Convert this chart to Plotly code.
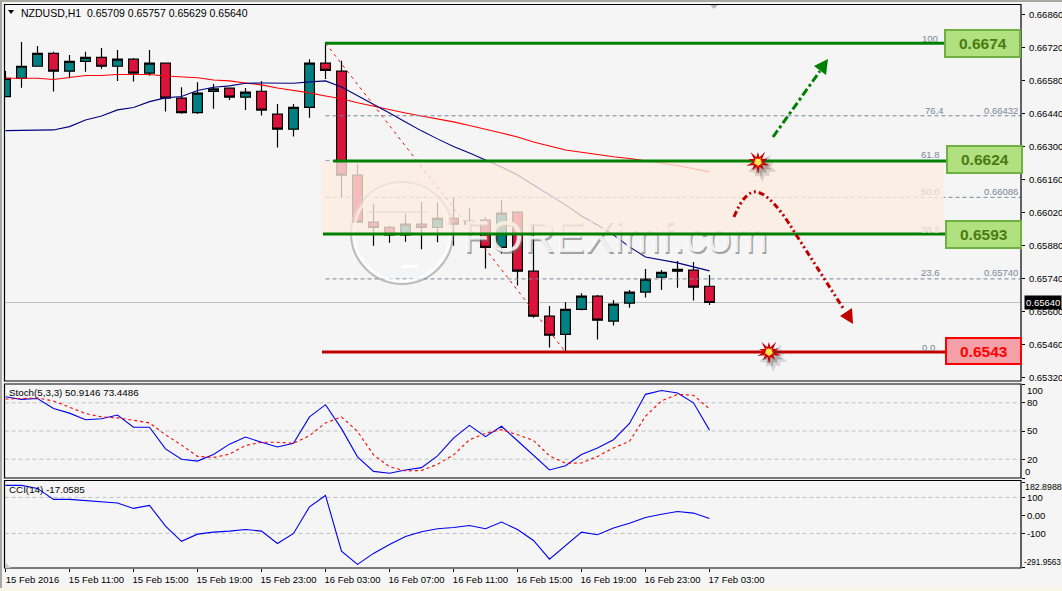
import math
import plotly.graph_objects as go

W, H = 1062, 591

# Hourly NZDUSD bars
opens = [0.66513,0.66591,0.66642,0.66697,0.66621,0.66663,0.66680,0.66642,0.66672,0.66613,
         0.66655,0.66507,0.66445,0.66535,0.66549,0.66511,0.66536,0.66439,0.66375,0.66468,
         0.66655,0.66621,0.66180,0.65981,0.65959,0.65927,0.65972,0.65958,0.65997,0.65972,
         0.65989,0.65874,0.66023,0.65773,0.65582,0.65505,0.65611,0.65667,0.65561,0.65637,
         0.65684,0.65747,0.65773,0.65777,0.65709]
highs = [0.66622,0.66745,0.66728,0.66704,0.66690,0.66704,0.66720,0.66711,0.66677,0.66711,
         0.66655,0.66553,0.66574,0.66567,0.66549,0.66550,0.66580,0.66482,0.66482,0.66672,
         0.66740,0.66665,0.66227,0.66058,0.65965,0.66016,0.66067,0.66067,0.66085,0.66040,
         0.66002,0.66075,0.66023,0.65969,0.65625,0.65641,0.65679,0.65672,0.65651,0.65693,
         0.65782,0.65778,0.65816,0.65812,0.65757]
lows = [0.66513,0.66551,0.66642,0.66535,0.66591,0.66619,0.66631,0.66580,0.66577,0.66602,
        0.66450,0.66441,0.66440,0.66462,0.66499,0.66457,0.66433,0.66297,0.66344,0.66424,
        0.66588,0.66084,0.65981,0.65881,0.65893,0.65898,0.65866,0.65896,0.65881,0.65914,
        0.65784,0.65847,0.65712,0.65575,0.65449,0.65430,0.65607,0.65483,0.65542,0.65618,
        0.65661,0.65693,0.65703,0.65648,0.65629]
closes = [0.66591,0.66642,0.66697,0.66621,0.66663,0.66680,0.66642,0.66672,0.66613,0.66655,
          0.66507,0.66445,0.66528,0.66546,0.66511,0.66532,0.66456,0.66375,0.66468,0.66655,
          0.66625,0.66180,0.65981,0.65958,0.65927,0.65972,0.65958,0.65997,0.65972,0.65985,
          0.65874,0.66019,0.65773,0.65582,0.65501,0.65611,0.65667,0.65565,0.65633,0.65684,
          0.65739,0.65768,0.65781,0.65705,0.65640]

# Moving averages
ma_slow = [0.66591,0.66591,0.66591,0.66586,0.66593,0.66603,0.66603,0.66607,0.66607,0.66607,
           0.66601,0.66597,0.66593,0.66584,0.66580,0.66571,0.66563,0.66550,0.66540,0.66529,
           0.66516,0.66504,0.66487,0.66472,0.66457,0.66444,0.66431,0.66419,0.66406,0.66391,
           0.66376,0.66359,0.66342,0.66321,0.66304,0.66287,0.66277,0.66266,0.66258,0.66251,
           0.66241,0.66232,0.66221,0.66207,0.66194]
ma_fast = [0.66369,0.66369,0.66369,0.66372,0.66386,0.66414,0.66431,0.66457,0.66467,0.66492,
           0.66508,0.66514,0.66539,0.66553,0.66559,0.66570,0.66571,0.66570,0.66570,0.66576,
           0.66580,0.66554,0.66518,0.66482,0.66444,0.66406,0.66368,0.66334,0.66302,0.66274,
           0.66245,0.66215,0.66181,0.66139,0.66096,0.66054,0.66007,0.65969,0.65927,0.65876,
           0.65833,0.65821,0.65808,0.65791,0.65774]

# Oscillators
stoch_k = [86.4,83.6,84.6,74,69,62,63,67,54,54,31,20,18,25,36,43.6,38,33,37,65,78,52.5,22.5,7,5,
           8.6,11,23.6,42.5,56,44,55,39.6,24.6,8.6,13,25,32,40.7,58,89,93,90.4,80,50.91]
stoch_d = [84,84.6,85,82,75,68.6,65,64,61.4,58.6,46,35,23,21.8,25.4,34.6,38,38,37,45,58.6,65,49.6,24.6,12,
           7.5,8,14.6,24.6,40.7,47.5,51.4,46,40,23.6,15.7,16,23,32,39,65.7,82,89,88,73.45]
cci = [167,167,150,89,89,83,78,69,39,56,-59,-144,-104,-93,-87,-78,-87,-156,-100,48,111,-198,-272,-211,-161,
       -117,-91,-74,-67,-56,-74,-37,-78,-139,-243,-167,-93,-107,-70,-44,-11,7,22,13,-17.06]

# Fibonacci retracement and trade levels
fib_high_bar, fib_low_bar = 20, 35
fib_high, fib_low = 0.6674, 0.6543
fib_dashed = [0.66432, 0.66241, 0.66086, 0.65740]
level_support_top = 0.6624
level_support_bottom = 0.6593
last_price = 0.65640

# Axis labels
time_ticks = [0, 4, 8, 12, 16, 20, 24, 28, 32, 36, 40, 44]
time_labels = ["15 Feb 2016", "15 Feb 11:00", "15 Feb 15:00", "15 Feb 19:00", "15 Feb 23:00",
               "16 Feb 03:00", "16 Feb 07:00", "16 Feb 11:00", "16 Feb 15:00", "16 Feb 19:00",
               "16 Feb 23:00", "17 Feb 03:00"]
price_ticks = [0.66860,0.66720,0.66580,0.66440,0.66300,0.66160,0.66020,0.65880,0.65740,0.65600,0.65460,0.65320]

FONT = "Liberation Sans"
BG = "#f5f5f5"
GREEN = "#008000"
DARK_RED = "#c00000"
FIB = "#778899"

bars = list(range(len(opens)))


def px(x):
    return x / W


def py(y):
    return 1 - y / H


def bar_at(x):
    """Horizontal pixel to bar position."""
    return (x - 5.5) / 16


def rect(x0, y0, x1, y1, **kw):
    return dict(type="rect", xref="paper", yref="paper", x0=px(x0), x1=px(x1), y0=py(y0), y1=py(y1), **kw)


def path_shape(points, closed=True, **kw):
    d = "M" + "L".join(f"{px(a):.5f},{py(b):.5f}" for a, b in points) + ("Z" if closed else "")
    return dict(type="path", xref="paper", yref="paper", path=d, **kw)


def star(cx, cy, outer, inner, n=10, phase=0.3):
    pts = []
    for k in range(2 * n):
        r = outer if k % 2 == 0 else inner
        if k % 4 == 0:
            r *= 1.25
        a = phase + k * math.pi / n
        pts.append((cx + r * math.cos(a), cy + r * math.sin(a)))
    return pts


def burst(cx, cy):
    return [
        path_shape(star(cx + 4, cy + 5, 12, 9), fillcolor="rgba(60,60,60,0.16)", line_width=0),
        path_shape(star(cx + 3, cy + 4, 9, 6), fillcolor="rgba(60,60,60,0.30)", line_width=0),
        path_shape(star(cx, cy, 10, 5), fillcolor="#c80000", line_width=0),
        path_shape(star(cx, cy, 4, 3), fillcolor="#ffe94d", line_width=0),
    ]


def note(x, y, text, size=10, color="black", xanchor="left", yanchor="middle", **kw):
    return dict(xref="paper", yref="paper", x=px(x), y=py(y), text=text, showarrow=False,
                xanchor=xanchor, yanchor=yanchor, borderpad=0,
                font=dict(family=FONT, size=size, color=color), **kw)


fig = go.Figure()

fig.add_trace(go.Candlestick(
    x=bars, open=opens, high=highs, low=lows, close=closes,
    xaxis="x", yaxis="y", whiskerwidth=0, hoverinfo="skip",
    increasing=dict(fillcolor="#008080", line=dict(color="black", width=1.2)),
    decreasing=dict(fillcolor="#dc143c", line=dict(color="black", width=1.2)),
))
fig.add_trace(go.Scatter(x=bars, y=ma_slow, mode="lines", line=dict(color="#ff0000", width=1.1), yaxis="y"))
fig.add_trace(go.Scatter(x=bars, y=ma_fast, mode="lines", line=dict(color="#000080", width=1.1), yaxis="y"))
fig.add_trace(go.Scatter(x=[fib_high_bar, fib_low_bar], y=[fib_high, fib_low], mode="lines",
                         line=dict(color="#ff0000", width=1, dash="3px,4px"), yaxis="y"))
fig.add_trace(go.Scatter(x=bars, y=stoch_k, mode="lines", line=dict(color="#0000f0", width=1.1), yaxis="y2"))
fig.add_trace(go.Scatter(x=bars, y=stoch_d, mode="lines", line=dict(color="#ff0000", width=1.1, dash="3px,3px"), yaxis="y2"))
fig.add_trace(go.Scatter(x=bars, y=cci, mode="lines", line=dict(color="#0000f0", width=1.1), yaxis="y3"))

shapes = []

# Indicator reference levels and the last-price line sit beneath the series
for lvl in (80, 50, 20):
    shapes.append(dict(type="line", xref="x domain", yref="y2", x0=0, x1=1, y0=lvl, y1=lvl, layer="below",
                       line=dict(color="#c0c0c0", width=1, dash="4px,3px")))
for lvl in (100, -100):
    shapes.append(dict(type="line", xref="x domain", yref="y3", x0=0, x1=1, y0=lvl, y1=lvl, layer="below",
                       line=dict(color="#c0c0c0", width=1, dash="4px,3px")))
shapes.append(dict(type="line", xref="x domain", yref="y", x0=0, x1=1, y0=last_price, y1=last_price, layer="below",
                   line=dict(color="#c0c0c0", width=1)))

# Fibonacci dashed levels
for lvl in fib_dashed:
    shapes.append(dict(type="line", xref="x", yref="y", x0=fib_high_bar, x1=bar_at(1021), y0=lvl, y1=lvl,
                       line=dict(color=FIB, width=1, dash="4px,3px")))

# Embossed watermark: logo ring, rule and word mark, later covered by the tinted band
shapes += [
    dict(type="circle", xref="paper", yref="paper", x0=px(351), x1=px(453), y0=py(284), y1=py(182),
         line=dict(color="rgba(140,140,140,0.55)", width=2)),
    dict(type="circle", xref="paper", yref="paper", x0=px(354), x1=px(450), y0=py(281), y1=py(185),
         line=dict(color="rgba(255,255,255,0.75)", width=3)),
    rect(367, 211, 427, 213, fillcolor="rgba(140,140,140,0.5)", line_width=0),
    rect(402, 265, 418, 268, fillcolor="rgba(255,255,255,0.95)", line_width=0),
    dict(type="rect", xref="paper", yref="paper", x0=px(463), x1=px(767), y0=py(260), y1=py(205),
         line_width=0, fillcolor="rgba(0,0,0,0)",
         label=dict(text="FOREXimf.com", textposition="middle center",
                    font=dict(family=FONT, size=44, color="rgba(250,250,250,0.9)",
                              shadow="1.5px 2px 0px rgba(115,115,115,0.7)"))),
]

# Tinted retracement band
shapes.append(dict(type="rect", xref="x", yref="y", x0=bar_at(321), x1=bar_at(944),
                   y0=level_support_bottom, y1=level_support_top,
                   fillcolor="rgba(253,236,224,0.78)", line_width=0))

# Solid trade levels
shapes += [
    dict(type="line", xref="x", yref="y", x0=bar_at(325), x1=bar_at(945), y0=fib_high, y1=fib_high,
         line=dict(color=GREEN, width=3)),
    dict(type="line", xref="x", yref="y", x0=bar_at(333), x1=bar_at(947), y0=level_support_top, y1=level_support_top,
         line=dict(color=GREEN, width=3)),
    dict(type="line", xref="x", yref="y", x0=bar_at(323), x1=bar_at(946), y0=level_support_bottom, y1=level_support_bottom,
         line=dict(color=GREEN, width=3)),
    dict(type="line", xref="x", yref="y", x0=bar_at(322), x1=bar_at(946), y0=fib_low, y1=fib_low,
         line=dict(color=DARK_RED, width=3)),
]

# Panel frames and outer window edge
for top, bottom in ((4.5, 381), (384, 478), (480.5, 568)):
    shapes.append(rect(4.5, top, 1021, bottom, line=dict(color="black", width=1.2)))
shapes.append(rect(0, 0, W, 2, fillcolor="#a8a8a0", line_width=0))
shapes.append(rect(0, 0, 2, H, fillcolor="#a8a8a0", line_width=0))
shapes.append(rect(0, 588, W, H, fillcolor="#f6f6e8", line_width=0))

# Small chart-shift and scale markers
shapes.append(path_shape([(710, 5), (718, 5), (714, 9)], fillcolor="#b8b8b8", line_width=0))
shapes.append(path_shape([(5, 562), (5, 568), (11, 568)], fillcolor="#c8c8c8", line_width=0))
shapes.append(path_shape([(8, 10), (14, 10), (11, 14)], fillcolor="black", line_width=0))

# Projected moves
shapes.append(path_shape([(773, 137), (820, 71)], closed=False,
                         line=dict(color=GREEN, width=3, dash="8px,3px,3px,3px")))
shapes.append(path_shape([(828, 59), (814, 66), (826, 75)], fillcolor=GREEN, line_width=0))
arc = (f"M{px(734):.5f},{py(217):.5f}Q{px(745):.5f},{py(190):.5f} {px(757):.5f},{py(192):.5f}"
       f"Q{px(772):.5f},{py(195):.5f} {px(795):.5f},{py(233):.5f}L{px(843):.5f},{py(308):.5f}")
shapes.append(dict(type="path", xref="paper", yref="paper", path=arc,
                   line=dict(color=DARK_RED, width=3, dash="6px,3px,2px,3px,2px,3px")))
shapes.append(path_shape([(840, 316), (852, 308), (853, 324)], fillcolor=DARK_RED, line_width=0))

shapes += burst(758, 162)
shapes += burst(769, 352)

# Level tags
tags = [
    (945, 30, 1020, 57, "#b0e080", "#70b040"),
    (947, 146, 1022, 173, "#b0e080", "#70b040"),
    (946, 221, 1021, 248, "#b0e080", "#70b040"),
    (946, 338, 1021, 364, "#f4a0a8", "#ff0000"),
]
for x0, y0, x1, y1, fill, edge in tags:
    shapes.append(rect(x0, y0, x1, y1, fillcolor=fill, line=dict(color=edge, width=2)))

annotations = [
    note(20, 12.5, "NZDUSD,H1&#160;&#160;0.65709 0.65757 0.65629 0.65640", size=10.5),
    note(8, 392, "Stoch(5,3,3) 50.9146 73.4486", size=9.8),
    note(8, 489, "CCI(14) -17.0585", size=9.8),
    note(1026, 390, "100", size=9.5), note(1024, 471.5, "0", size=9.5),
    note(1024, 487, "182.8988", size=8.8), note(1023, 562, "-291.9563", size=8.2),
    dict(xref="paper", yref="y", x=px(1024), y=last_price, text="0.65640", showarrow=False,
         xanchor="left", yanchor="middle", bgcolor="black", borderpad=1,
         font=dict(family=FONT, size=9.5, color="white")),
]
for x, y, text, color, anchor in [
    (939, 38, "100", FIB, "right"), (945, 110, "76.4", FIB, "right"), (1019, 110, "0.66432", FIB, "right"),
    (941, 155, "61.8", FIB, "right"), (941, 191, "50.0", "#dcd4cc", "right"), (1019, 191, "0.66086", FIB, "right"),
    (941, 229, "38.2", "#dcd4cc", "right"), (941, 273, "23.6", FIB, "right"), (1019, 273, "0.65740", FIB, "right"),
    (936, 347, "0.0", FIB, "right"),
]:
    annotations.append(note(x, y, text, size=9.5, color=color, xanchor=anchor))
for (x0, y0, x1, y1, fill, edge), color, value in zip(
    tags, ["#4a7a10", "#4a7a10", "#4a7a10", "#ff0000"], [fib_high, level_support_top, level_support_bottom, fib_low]
):
    annotations.append(dict(xref="paper", yref="paper", x=px((x0 + x1) / 2), y=py((y0 + y1) / 2), text=f"<b>{value:.4f}</b>",
                            showarrow=False, xanchor="center", yanchor="middle",
                            font=dict(family=FONT, size=15.5, color=color)))

tick_font = dict(family=FONT, size=9.5, color="black")
axis_common = dict(showgrid=False, zeroline=False, showline=False, ticks="outside", ticklen=3,
                   tickcolor="black", tickfont=tick_font, side="right", anchor="x")

fig.update_layout(
    width=W, height=H, autosize=False,
    margin=dict(l=0, r=0, t=0, b=0, autoexpand=False),
    paper_bgcolor=BG, plot_bgcolor=BG,
    showlegend=False, hovermode=False,
    boxgap=0.39, boxgroupgap=0,
    xaxis=dict(domain=[px(4.5), px(1021)], range=[bar_at(4.5), bar_at(1021)], anchor="y3",
               showgrid=False, zeroline=False, showline=False, rangeslider=dict(visible=False),
               tickmode="array", tickvals=time_ticks, ticktext=time_labels, ticklabelshift=27,
               ticks="outside", ticklen=3, tickcolor="black", tickfont=tick_font),
    yaxis=dict(domain=[py(381), py(4.5)], range=[0.65307, 0.66904], tickmode="array", tickvals=price_ticks,
               ticktext=[f"{t:.5f}" for t in price_ticks], ticklabelstandoff=2, **axis_common),
    yaxis2=dict(domain=[py(478), py(384)], range=[0, 100], tickmode="array", tickvals=[100, 80, 50, 20, 0],
                ticktext=["", "80", "50", "20", ""], **axis_common),
    yaxis3=dict(domain=[py(568), py(480.5)], range=[-292, 194], tickmode="array",
                tickvals=[182.8988, 100, 0, -100, -291.9563], ticktext=["", "100", "0.00", "-100", ""], **axis_common),
    shapes=shapes,
    annotations=annotations,
)

fig.write_html("out.html", config=dict(displayModeBar=False))
